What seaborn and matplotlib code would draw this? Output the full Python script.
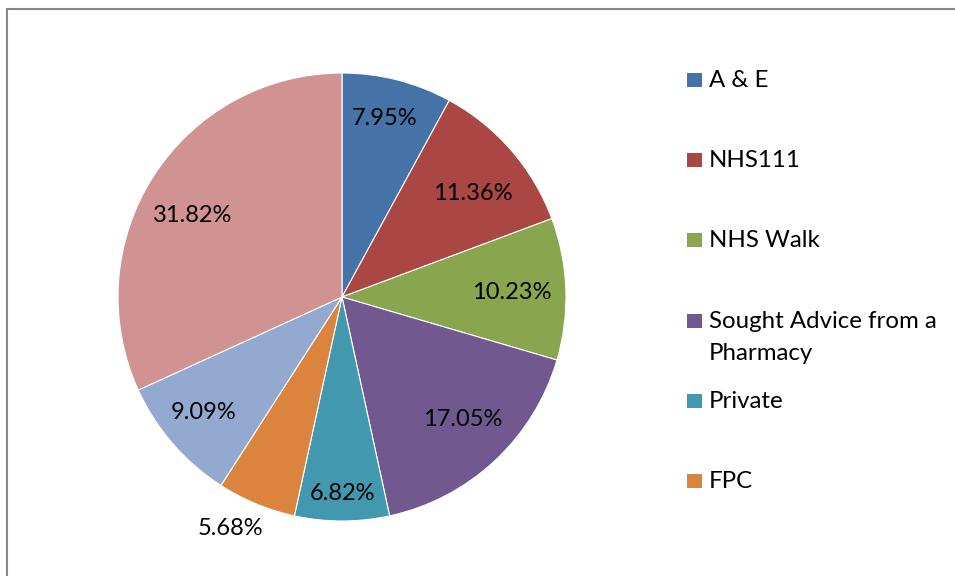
import matplotlib
matplotlib.use("Agg")
import matplotlib.pyplot as plt
import seaborn as sns
from matplotlib.patches import Rectangle
import numpy as np

categories = ["A & E", "NHS111", "NHS Walk", "Sought Advice from a\nPharmacy",
              "Private", "FPC", "Category 7", "Category 8"]
values = [7.95, 11.36, 10.23, 17.05, 6.82, 5.68, 9.09, 31.82]
colors = ["#4572A7", "#AA4643", "#89A54E", "#71588F",
          "#4198AF", "#DB843D", "#93A9CF", "#D19392"]
legend_shown = 6

# label placement (style, Excel best-fit placement): radial distance and angle nudge
label_dist = [0.83, 0.75, 0.76, 0.76, 0.87, 1.14, 0.80, 0.765]
label_dang = [1.0, -2.0, 0.0, 2.0, 0.0, -3.5, -1.5, 3.7]
legend_baseline_px = [87, 167, 247, 328, 408, 488]

sns.set_theme(style="white")
plt.rcParams['font.family'] = ['Lato', 'DejaVu Sans']
FS = 17
LFS = 17.3

W, H = 955, 576
fig = plt.figure(figsize=(W / 100, H / 100), dpi=100)
fig.patch.set_facecolor("white")

cx, cy, r = 342, 297, 224
ax = fig.add_axes([(cx - r) / W, (H - cy - r) / H, 2 * r / W, 2 * r / H])
wedges, _ = ax.pie(values, colors=colors, startangle=90, counterclock=False,
                   radius=1, wedgeprops=dict(edgecolor="white", linewidth=0.8))
ax.set_xlim(-1, 1)
ax.set_ylim(-1, 1)
ax.set_aspect("equal")
ax.axis("off")

for w, v, d, da in zip(wedges, values, label_dist, label_dang):
    ang = np.deg2rad((w.theta1 + w.theta2) / 2 + da)
    ax.text(d * np.cos(ang), d * np.sin(ang) - 8.5 / r, f"{v:.2f}%", ha="center",
            va="baseline", fontsize=FS, color="black", clip_on=False)

# legend (manual, Excel-like)
for lab, col, yb in zip(categories[:legend_shown], colors[:legend_shown], legend_baseline_px):
    lines = lab.split("\n")
    fig.patches.append(Rectangle((687 / W, 1 - yb / H), 15 / W, 14 / H,
                                 transform=fig.transFigure, facecolor=col,
                                 edgecolor="none"))
    for i, line in enumerate(lines):
        fig.text(709 / W, 1 - (yb + 32 * i) / H, line, ha="left", va="baseline",
                 fontsize=LFS, color="black")

# chart-area border
fig.patches.append(Rectangle((7 / W, -0.1), 1.2, 1 - 9 / H + 0.1,
                             transform=fig.transFigure, facecolor="none",
                             edgecolor="#868686", linewidth=1.5))

fig.savefig("out.png", dpi=100, facecolor="white")
